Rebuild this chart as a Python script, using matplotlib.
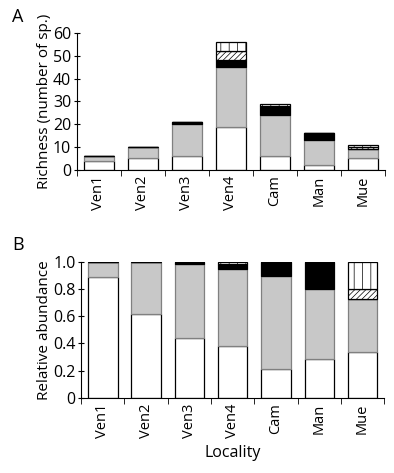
import numpy as np
import matplotlib.pyplot as plt
from matplotlib.ticker import FixedLocator, FuncFormatter

plt.rcParams['font.family'] = ['Open Sans', 'DejaVu Sans']
plt.rcParams['hatch.linewidth'] = 0.5

localities = ["Ven1", "Ven2", "Ven3", "Ven4", "Cam", "Man", "Mue"]

# panel A: species richness per group
rich_white = [4, 5, 6, 19, 6, 2, 5]
rich_gray = [2, 5, 14, 26, 18, 11, 4]
rich_black = [0, 0, 1, 3, 4, 3, 0]
rich_diag = [0, 0, 0, 4, 0, 0, 1]
rich_vert = [0, 0, 0, 4, 1, 0, 1]

# panel B: relative abundance per group
abund_white = [0.89, 0.62, 0.44, 0.385, 0.215, 0.285, 0.34]
abund_gray = [0.11, 0.38, 0.545, 0.565, 0.685, 0.515, 0.39]
abund_black = [0, 0, 0.015, 0.033, 0.10, 0.20, 0]
abund_diag = [0, 0, 0, 0.004, 0, 0, 0.07]
abund_vert = [0, 0, 0, 0.013, 0, 0, 0.20]

styles = [
 dict(color="white", edgecolor="black"),
 dict(color="#c8c8c8", edgecolor="#808080"),
 dict(color="black", edgecolor="black"),
 dict(color="white", edgecolor="black", hatch="//////"),
 dict(color="white", edgecolor="black", hatch="||"),
]

def stacked(ax, series):
 x = np.arange(len(localities))
 bottom = np.zeros(len(localities))
 for vals, st in zip(series, styles):
  vals = np.array(vals, dtype=float)
  ax.bar(x, vals, 0.68, bottom=bottom, linewidth=0.9, **st)
  bottom += vals
 ax.set_xlim(-0.5, len(localities) - 0.5)
 ax.spines["top"].set_visible(False)
 ax.spines["right"].set_visible(False)
 ax.set_xticks(x)
 ax.set_xticklabels(localities, rotation=90, fontsize=10.5)
 ax.tick_params(axis="x", which="major", length=0, pad=4)
 ax.xaxis.set_minor_locator(FixedLocator(np.arange(-0.5, len(localities), 1.0)))
 ax.tick_params(axis="x", which="minor", length=4, direction="out")
 ax.tick_params(axis="y", length=4, labelsize=11.5, direction="inout", pad=2)

fig = plt.figure(figsize=(3.94, 4.73), dpi=100)

ax1 = fig.add_axes([0.195, 0.641, 0.782, 0.289])
stacked(ax1, [rich_white, rich_gray, rich_black, rich_diag, rich_vert])
ax1.set_ylim(0, 60)
ax1.set_yticks(range(0, 61, 10))
ax1.set_ylabel("Richness (number of sp.)", fontsize=11, labelpad=1)

ax2 = fig.add_axes([0.206, 0.159, 0.769, 0.287])
stacked(ax2, [abund_white, abund_gray, abund_black, abund_diag, abund_vert])
ax2.set_ylim(0, 1.0)
ax2.set_yticks(np.arange(0, 1.01, 0.2))
ax2.yaxis.set_major_formatter(FuncFormatter(lambda v, p: "0" if v == 0 else f"{v:.1f}"))
ax2.set_ylabel("Relative abundance", fontsize=11, labelpad=1)
ax2.set_xlabel("Locality", fontsize=11.5, labelpad=5)

fig.text(0.03, 0.965, "A", fontsize=13, va="center")
fig.text(0.03, 0.482, "B", fontsize=13, va="center")

fig.savefig("out.png", dpi=100)
